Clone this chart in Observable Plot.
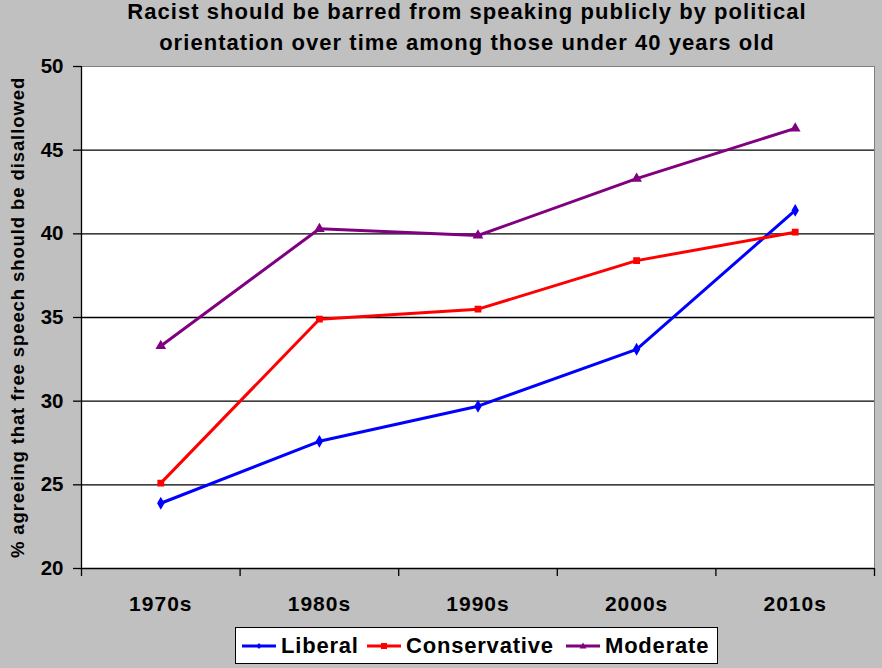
<!DOCTYPE html>
<html>
<head>
<meta charset="utf-8">
<script src="https://cdn.jsdelivr.net/npm/d3@7"></script>
<script src="https://cdn.jsdelivr.net/npm/@observablehq/plot@0.6"></script>
<style>
  html, body { margin: 0; padding: 0; background: #c0c0c0; }
  #wrap { position: relative; width: 882px; height: 668px; overflow: hidden; font-family: "Liberation Sans", Arial, sans-serif; }
  .title { position: absolute; left: 0; width: 934px; text-align: center; font-weight: bold; font-size: 22px; letter-spacing: 1.05px; line-height: 22px; color: #000; white-space: nowrap; }
  #chart { position: absolute; left: 0; top: 0; }
  #legend { position: absolute; left: 235px; top: 627px; width: 481px; height: 35px; background: #fff; border: 1px solid #000; font-weight: bold; font-size: 22px; letter-spacing: 0.8px; }
  #legend .item { position: absolute; top: 0; height: 35px; display: flex; align-items: center; }
  #legend svg { margin-right: 5px; }
</style>
</head>
<body>
<div id="wrap">
  <div id="chart"></div>
  <div class="title" style="top:1px">Racist should be barred from speaking publicly by political</div>
  <div class="title" style="top:32px">orientation over time among those under 40 years old</div>
  <div id="legend"></div>
</div>
<script>
const decades = ["1970s", "1980s", "1990s", "2000s", "2010s"];
const liberal = [23.9, 27.6, 29.7, 33.1, 41.4];
const conservative = [25.1, 34.9, 35.5, 38.4, 40.1];
const moderate = [33.3, 40.3, 39.9, 43.3, 46.3];
const seriesNames = ["Liberal", "Conservative", "Moderate"];
const seriesColors = ["#0000ff", "#ff0000", "#800080"];
const seriesSymbols = ["diamond", "square", "triangle"];
const yTicks = [20, 25, 30, 35, 40, 45, 50];
const yLabel = "% agreeing that free speech should be disallowed";

const seriesValues = [liberal, conservative, moderate];
const data = [];
seriesValues.forEach((vals, s) => vals.forEach((v, i) => data.push({series: seriesNames[s], decade: decades[i], pos: i + 0.5, value: v})));
const bounds = d3.range(0, decades.length + 1);
const centers = decades.map((d, i) => ({pos: i + 0.5, label: d}));

const chart = Plot.plot({
  width: 882,
  height: 668,
  marginTop: 66,
  marginBottom: 100,
  marginLeft: 81,
  marginRight: 8,
  style: {background: "transparent", fontFamily: "Liberation Sans, Arial, sans-serif"},
  x: {type: "linear", domain: [0, decades.length], axis: null},
  y: {type: "linear", domain: [20, 50], axis: null},
  color: {domain: seriesNames, range: seriesColors},
  symbol: {domain: seriesNames, range: seriesSymbols},
  marks: [
    Plot.frame({fill: "white", stroke: "#808080"}),
    Plot.ruleY(yTicks.filter(t => t > 20 && t < 50), {stroke: "black", strokeWidth: 1.3}),
    Plot.axisY({ticks: yTicks, tickSize: 8, tickFormat: () => "", label: null, stroke: "black", strokeWidth: 1.3}),
    Plot.text(yTicks, {y: d => d, frameAnchor: "left", textAnchor: "end", dx: -18, fontSize: 20.5, fontWeight: "bold", fill: "black"}),
    Plot.ruleX([0], {stroke: "black", strokeWidth: 1.3}),
    Plot.ruleY([20], {stroke: "black", strokeWidth: 1.3}),
    Plot.axisX({ticks: bounds, tickSize: 8, tickFormat: () => "", label: null, stroke: "black", strokeWidth: 1.3}),
    Plot.text(centers, {x: "pos", text: "label", frameAnchor: "bottom", dy: 42, fontSize: 21, fontWeight: "bold", fill: "black"}),
    Plot.text([yLabel], {frameAnchor: "left", textAnchor: "middle", dx: -63, rotate: -90, fontSize: 18.5, fontWeight: "bold", fill: "black"}),
    Plot.line(data, {x: "pos", y: "value", z: "series", stroke: "series", strokeWidth: 3}),
    Plot.dot(data, {x: "pos", y: "value", fill: "series", stroke: "series", symbol: "series", r: 3})
  ]
});
document.getElementById("chart").appendChild(chart);
// widen the bold axis texts slightly to match the reference's rendering
d3.select(chart).selectAll("text").each(function() {
  const t = this.textContent;
  if (decades.includes(t)) this.setAttribute("letter-spacing", "1");
  if (t === yLabel) this.setAttribute("letter-spacing", "0.9");
});

const legend = document.getElementById("legend");
const legendLeft = [6, 131, 330];
seriesNames.forEach((name, i) => {
  const item = document.createElement("div");
  item.className = "item";
  item.style.left = legendLeft[i] + "px";
  const c = seriesColors[i];
  let marker = "";
  if (i === 0) marker = `<path d="M17,2 L19.5,5 L17,8 L14.5,5 Z" fill="${c}"/>`;
  if (i === 1) marker = `<rect x="14" y="2" width="6" height="6" fill="${c}"/>`;
  if (i === 2) marker = `<path d="M17,1.5 L20.5,7.5 L13.5,7.5 Z" fill="${c}"/>`;
  item.innerHTML = `<svg width="34" height="10"><line x1="0" y1="5" x2="34" y2="5" stroke="${c}" stroke-width="3"/>${marker}</svg><span>${name}</span>`;
  legend.appendChild(item);
});
</script>
</body>
</html>
